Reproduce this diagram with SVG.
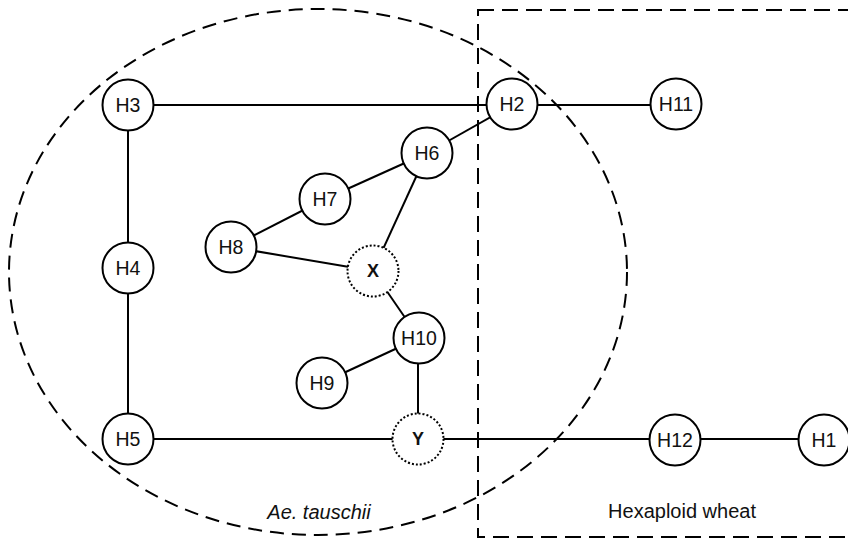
<svg xmlns="http://www.w3.org/2000/svg" width="848" height="539" viewBox="0 0 848 539">
<style>
.bg{fill:#fff}
.region{fill:none;stroke:#000;stroke-width:2}
.ell{stroke-dasharray:14 8}
.box{stroke-dasharray:16 8}
.edge{stroke:#000;stroke-width:2;fill:none}
.node circle{fill:#fff;stroke:#000;stroke-width:2}
.node.hyp circle{stroke-dasharray:2 2}
.node text{font-family:"Liberation Sans",Arial,sans-serif;font-size:19.5px;fill:#111;text-anchor:middle;dominant-baseline:central}
.node.hyp text{font-weight:bold;font-size:18px}
.lbl{font-family:"Liberation Sans",Arial,sans-serif;font-size:20px;fill:#111;text-anchor:middle}
</style>
<rect class="bg" x="0" y="0" width="848" height="539"/>
<g id="regions">
<ellipse class="region ell" cx="318" cy="272" rx="309" ry="263"/>
<rect class="region box" x="478" y="10" width="400" height="527"/>
<text class="lbl" x="319" y="519" font-style="italic">Ae. tauschii</text>
<text class="lbl" x="682" y="518">Hexaploid wheat</text>
</g>
<g id="connectors">
<line class="edge" x1="128" y1="105" x2="512" y2="105"/>
<line class="edge" x1="512" y1="105" x2="676" y2="105"/>
<line class="edge" x1="128" y1="105" x2="128" y2="268"/>
<line class="edge" x1="128" y1="268" x2="128" y2="439"/>
<line class="edge" x1="128" y1="439" x2="418" y2="439"/>
<line class="edge" x1="418" y1="439" x2="675" y2="439"/>
<line class="edge" x1="675" y1="439" x2="824" y2="439"/>
<line class="edge" x1="512" y1="105" x2="427" y2="153"/>
<line class="edge" x1="427" y1="153" x2="325" y2="199"/>
<line class="edge" x1="325" y1="199" x2="231" y2="247"/>
<line class="edge" x1="231" y1="247" x2="373" y2="271"/>
<line class="edge" x1="427" y1="153" x2="373" y2="271"/>
<line class="edge" x1="373" y1="271" x2="419" y2="338"/>
<line class="edge" x1="419" y1="338" x2="322" y2="383"/>
<line class="edge" x1="418" y1="338" x2="418" y2="439"/>
</g>
<g id="H3" class="node"><circle cx="128" cy="105" r="25.5"/><text x="128" y="105">H3</text></g>
<g id="H2" class="node"><circle cx="512" cy="104" r="25.5"/><text x="512" y="104">H2</text></g>
<g id="H11" class="node"><circle cx="676" cy="104" r="25.5"/><text x="676" y="104">H11</text></g>
<g id="H4" class="node"><circle cx="128" cy="268" r="25.5"/><text x="128" y="268">H4</text></g>
<g id="H5" class="node"><circle cx="128" cy="439" r="25.5"/><text x="128" y="439">H5</text></g>
<g id="H6" class="node"><circle cx="427" cy="153" r="25.5"/><text x="427" y="153">H6</text></g>
<g id="H7" class="node"><circle cx="325" cy="199" r="25.5"/><text x="325" y="199">H7</text></g>
<g id="H8" class="node"><circle cx="231" cy="247" r="25.5"/><text x="231" y="247">H8</text></g>
<g id="X" class="node hyp"><circle cx="373" cy="271" r="25.5"/><text x="373" y="271">X</text></g>
<g id="H10" class="node"><circle cx="419" cy="338" r="25.5"/><text x="419" y="338">H10</text></g>
<g id="H9" class="node"><circle cx="322" cy="383" r="25.5"/><text x="322" y="383">H9</text></g>
<g id="Y" class="node hyp"><circle cx="418" cy="439" r="25.5"/><text x="418" y="439">Y</text></g>
<g id="H12" class="node"><circle cx="675" cy="440" r="25.5"/><text x="675" y="440">H12</text></g>
<g id="H1" class="node"><circle cx="824" cy="440" r="25.5"/><text x="824" y="440">H1</text></g>
</svg>
